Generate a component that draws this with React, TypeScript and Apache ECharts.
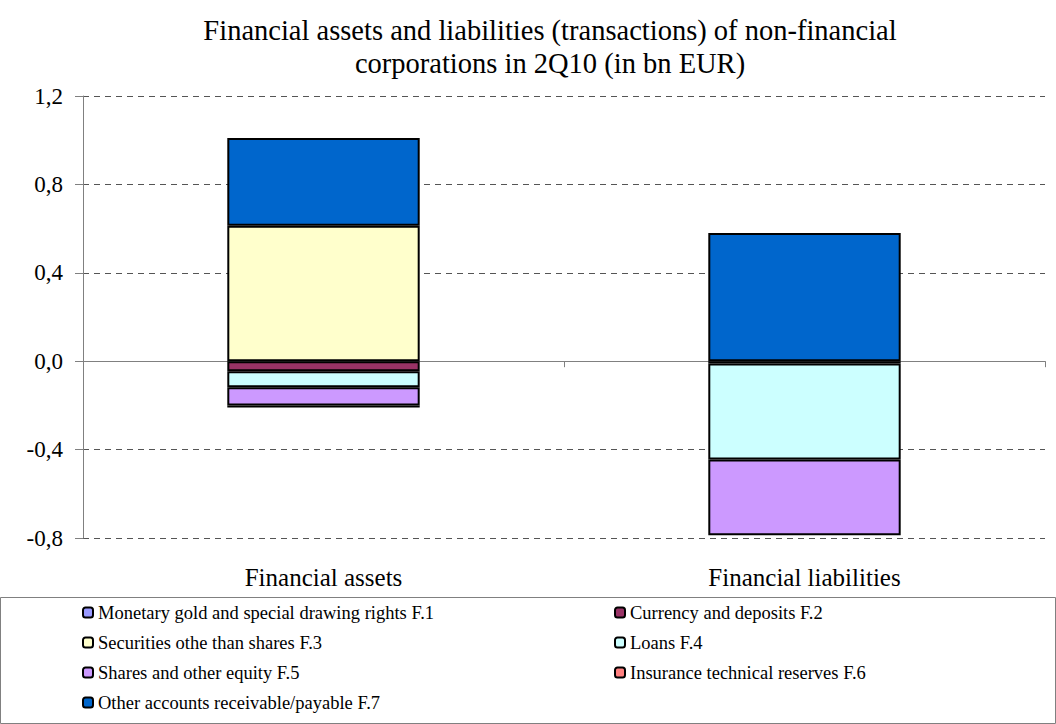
import React, { useEffect, useRef } from "react";
import * as echarts from "echarts";

const categories = ["Financial assets", "Financial liabilities"];
const seriesNames = [
  "Monetary gold and special drawing rights F.1",
  "Currency and deposits F.2",
  "Securities othe than shares F.3",
  "Loans F.4",
  "Shares and other equity F.5",
  "Insurance technical reserves F.6",
  "Other accounts receivable/payable F.7",
];
const seriesColors = ["#9999FF", "#993366", "#FFFFCC", "#CCFFFF", "#CC99FF", "#FF8080", "#0066CC"];
const f1 = [null, null];
const f2 = [-0.045, -0.01];
const f3 = [0.613, null];
const f4 = [-0.073, -0.435];
const f5 = [-0.082, -0.342];
const f6 = [-0.01, null];
const f7 = [0.397, 0.58];
const seriesValues = [f1, f2, f3, f4, f5, f6, f7];
const yTicks = { min: -0.8, max: 1.2, interval: 0.4 };

const FONT = "Liberation Serif";

export default function App() {
  const ref = useRef<HTMLDivElement>(null);
  useEffect(() => {
    const chart = echarts.init(ref.current!, null, { renderer: "svg" });
    const legendLeftNames = [seriesNames[0], seriesNames[2], seriesNames[4], seriesNames[6]];
    const legendRightNames = [seriesNames[1], seriesNames[3], seriesNames[5]];
    const legendCommon = {
      orient: "vertical",
      top: 598,
      itemWidth: 10,
      itemHeight: 10,
      itemGap: 11,
      textStyle: { fontFamily: FONT, fontSize: 18.5, color: "#000", lineHeight: 19 },
      selectedMode: false,
    };
    chart.setOption({
      animation: false,
      backgroundColor: "#fff",
      textStyle: { fontFamily: FONT },
      title: {
        text: "Financial assets and liabilities (transactions) of non-financial\ncorporations in 2Q10 (in bn EUR)",
        left: 545,
        textAlign: "center",
        top: 9,
        textStyle: { fontFamily: FONT, fontSize: 28.5, fontWeight: "normal", color: "#000", lineHeight: 33 },
      },
      grid: { left: 83, right: 11, top: 96, bottom: 186 },
      legend: [
        { ...legendCommon, left: 77, data: legendLeftNames },
        { ...legendCommon, left: 609, data: legendRightNames },
      ],
      graphic: [
        {
          type: "rect",
          shape: { x: 0.5, y: 597.5, width: 1055, height: 126 },
          style: { fill: "none", stroke: "#808080", lineWidth: 1 },
          z: -1,
        },
      ],
      xAxis: [
        {
          type: "category",
          data: categories,
          position: "bottom",
          axisLine: { show: false, onZero: false },
          axisTick: { show: false },
          axisLabel: { fontFamily: FONT, fontSize: 25, color: "#000", margin: 27 },
        },
        {
          type: "category",
          data: categories,
          position: "bottom",
          axisLine: { show: true, onZero: true, lineStyle: { color: "#808080", width: 1 } },
          axisTick: { show: true, length: 6, lineStyle: { color: "#808080" } },
          axisLabel: { show: false },
        },
      ],
      yAxis: {
        type: "value",
        min: yTicks.min,
        max: yTicks.max,
        interval: yTicks.interval,
        axisLine: { show: true, lineStyle: { color: "#808080", width: 1 } },
        axisTick: { show: true, length: 8, lineStyle: { color: "#808080" } },
        axisLabel: {
          fontFamily: FONT,
          fontSize: 23,
          color: "#000",
          margin: 20,
          formatter: (v: number) => v.toFixed(1).replace(".", ","),
        },
        splitLine: { show: true, lineStyle: { color: "#555", type: [6, 5], width: 1 } },
      },
      series: seriesNames.map((name, i) => ({
        name,
        type: "bar",
        stack: "total",
        xAxisIndex: 0,
        barWidth: "40%",
        data: seriesValues[i],
        itemStyle: { color: seriesColors[i], borderColor: "#000", borderWidth: 2 },
      })),
    });
    return () => chart.dispose();
  }, []);
  return <div ref={ref} style={{ width: 1056, height: 724, position: "absolute", left: 0, top: 0 }} />;
}
